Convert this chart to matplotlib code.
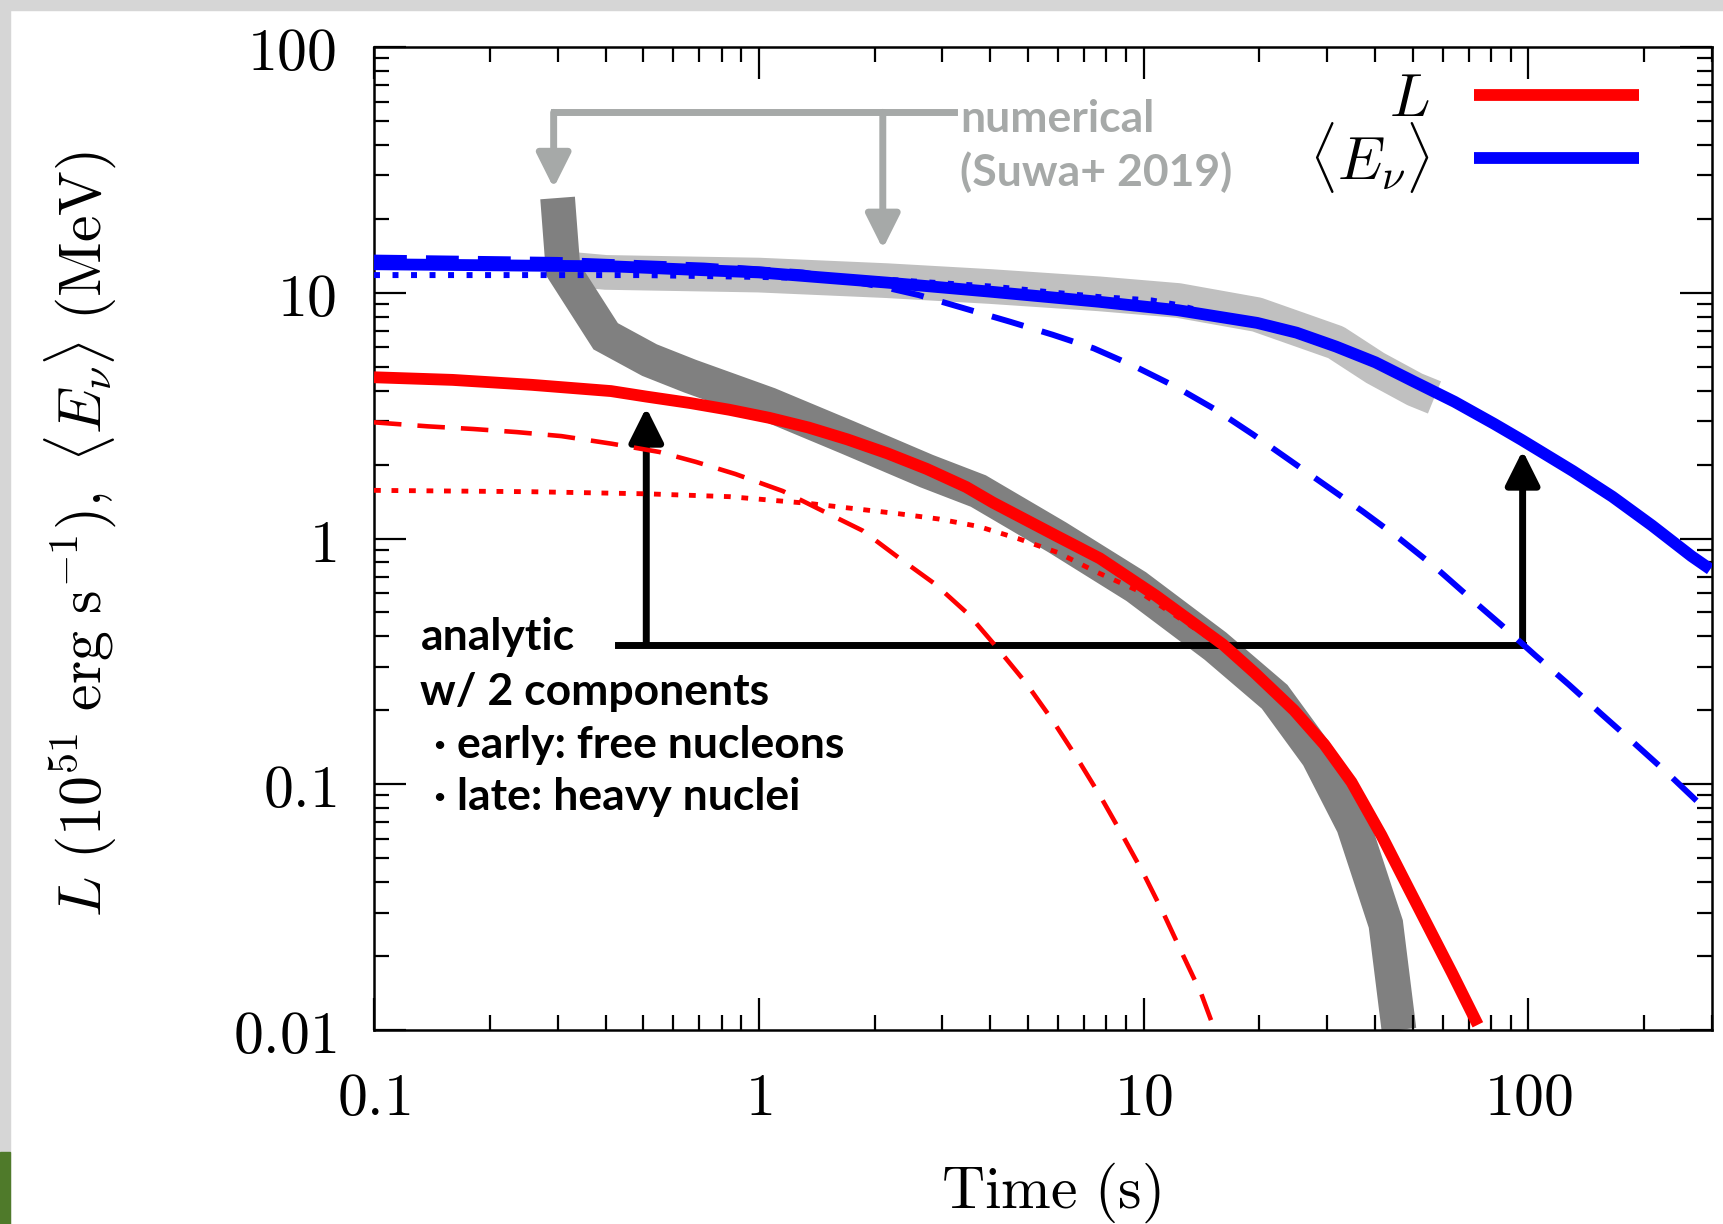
import matplotlib
matplotlib.use("Agg")
import matplotlib.pyplot as plt
from matplotlib.patches import Rectangle
from matplotlib.ticker import NullFormatter

# analytic model, luminosity (10^51 erg/s): total, early and late component
t_L = [0.1, 0.16, 0.257, 0.413, 0.51, 0.662, 0.839, 1.062, 1.345, 1.70, 2.16, 2.73, 3.46, 4.06,
       5.97, 7.7, 10.77, 16.09, 19.44, 24.6, 29.5, 34.7, 41.5, 48.9, 63.4, 73.9]
L_tot = [4.53, 4.42, 4.22, 3.98, 3.78, 3.56, 3.34, 3.10, 2.83, 2.53, 2.22, 1.92, 1.62, 1.40,
         1.02, 0.83, 0.585, 0.37, 0.284, 0.20, 0.145, 0.102, 0.062, 0.0375, 0.017, 0.0105]
t_L_early = [0.1, 0.138, 0.181, 0.235, 0.307, 0.415, 0.551, 0.686, 0.869, 1.154, 1.444, 1.86, 2.32,
             2.87, 3.51, 4.17, 4.94, 5.80, 6.71, 7.70, 8.75, 9.99, 11.29, 12.65, 14.13, 15.3]
L_early = [2.97, 2.86, 2.79, 2.71, 2.61, 2.43, 2.25, 2.05, 1.83, 1.56, 1.31, 1.077, 0.831,
           0.653, 0.491, 0.358, 0.259, 0.182, 0.128, 0.090, 0.0633, 0.0434, 0.0296, 0.0202, 0.014, 0.01]
t_L_late = [0.1, 0.257, 0.51, 0.839, 1.345, 2.32, 2.94, 3.72, 4.71, 5.97, 7.55, 9.57, 12.5, 16.09,
            19.44, 24.6, 29.5, 34.7, 41.5, 48.9, 63.4, 73.9]
L_late = [1.57, 1.55, 1.52, 1.48, 1.39, 1.26, 1.20, 1.12, 1.0, 0.878, 0.73, 0.618, 0.47, 0.36,
          0.28, 0.20, 0.145, 0.102, 0.062, 0.0375, 0.017, 0.0105]

# analytic model, mean energy (MeV)
t_E = [0.1, 0.42, 0.72, 1.0, 2.15, 4.0, 7.66, 12.29, 19.72, 24.97, 31.62, 40.05, 50.7, 64.3, 81.4,
       96.0, 130.6, 165.3, 209.4, 265.2, 297]
E_tot = [13.06, 12.8, 12.35, 12.1, 11.0, 10.1, 9.19, 8.49, 7.54, 6.88, 6.04, 5.21, 4.33, 3.60, 2.93,
         2.52, 1.88, 1.48, 1.13, 0.848, 0.75]
t_E_early = [0.1, 0.3, 0.72, 1.3, 2.14, 2.6, 3.42, 4.5, 5.8, 7.42, 9.45, 12.1, 15.4, 19.25, 23.9,
             29.8, 37.1, 46.2, 57.1, 69.8, 85.3, 104.3, 127.5, 154.8, 189.2, 231.2, 279.4, 297]
E_early = [13.9, 13.6, 12.9, 12.1, 10.5, 9.79, 8.64, 7.62, 6.75, 5.94, 5.03, 4.15, 3.34, 2.65, 2.09,
           1.64, 1.289, 1.00, 0.767, 0.581, 0.443, 0.334, 0.254, 0.193, 0.146, 0.110, 0.083, 0.077]
t_E_late = [0.1, 0.5, 1.0, 2.15, 4.0, 7.66, 10.5, 12.29, 15.7, 19.72, 31.62, 50.7, 96.0, 165.3, 297]
E_late = [11.8, 11.8, 11.6, 11.3, 10.6, 9.6, 9.3, 8.9, 8.05, 7.54, 6.04, 4.33, 2.52, 1.48, 0.75]

# numerical result (Suwa+ 2019)
t_num_L = [0.30, 0.31, 0.40, 0.52, 0.662, 1.062, 1.70, 2.73, 3.72, 5.97, 9.57, 15.36, 21.9, 28.4,
           35.1, 42.6, 46.1]
num_L = [24.3, 12.4, 6.65, 5.32, 4.58, 3.51, 2.58, 1.88, 1.56, 1.01, 0.637, 0.365, 0.227, 0.130,
         0.068, 0.027, 0.01]
t_num_E = [0.30, 0.40, 1.0, 2.15, 4.0, 7.66, 12.3, 19.7, 31.6, 40.0, 50.7, 57]
num_E = [12.6, 12.1, 11.8, 11.2, 10.6, 9.9, 9.3, 8.15, 6.28, 4.94, 4.04, 3.75]

xticks = [0.1, 1, 10, 100]
xticklabels = ['0.1', '1', '10', '100']
yticks = [0.01, 0.1, 1, 10, 100]
yticklabels = ['0.01', '0.1', '1', '10', '100']

plt.rcParams['mathtext.fontset'] = 'cm'
plt.rcParams['axes.linewidth'] = 1.8

W, H = 1723, 1224
fig = plt.figure(figsize=(W / 100, H / 100), dpi=100)

# slide frame bits around the picture
fig.patches.append(Rectangle((0, 1 - 10 / H), 1, 10 / H, transform=fig.transFigure, color='#d6d6d6', zorder=0))
fig.patches.append(Rectangle((0, 0), 10 / W, 1, transform=fig.transFigure, color='#d6d6d6', zorder=0))
fig.patches.append(Rectangle((0, 0), 10 / W, 72 / H, transform=fig.transFigure, color='#4f7a2a', zorder=0))

ax = fig.add_axes([374 / W, 1 - 1030 / H, 1338 / W, 983 / H])
ax.set_xscale('log')
ax.set_yscale('log')

red = '#ff0000'
blue = '#0000ff'
gray_txt = '#a6a9a8'

# numerical bands
ax.plot(t_num_E, num_E, color='#c0c0c0', lw=25, solid_capstyle='butt', solid_joinstyle='round', zorder=1)
ax.plot(t_num_L, num_L, color='#808080', lw=25, solid_capstyle='butt', solid_joinstyle='miter', zorder=1.1)

# components
ax.plot(t_L_early, L_early, color=red, lw=3.3, dashes=(6, 3.5), zorder=3)
ax.plot(t_L_late, L_late, color=red, lw=3.5, dashes=(1.4, 2.2), zorder=3)
ax.plot(t_E_early, E_early, color=blue, lw=4.3, dashes=(5.5, 3.2), zorder=3)
ax.plot(t_E_late, E_late, color=blue, lw=4.3, dashes=(1.0, 2.1), zorder=3)

# totals
lL, = ax.plot(t_L, L_tot, color=red, lw=8.5, solid_capstyle='butt', zorder=4, label=r'$L$')
lE, = ax.plot(t_E, E_tot, color=blue, lw=8.5, solid_capstyle='butt', zorder=4,
              label=r'$\langle E_\nu \rangle$')

# annotation: numerical
ax.plot([0.293, 3.21], [54.2, 54.2], color=gray_txt, lw=5, solid_capstyle='projecting', zorder=2)
for xa, ya in [(0.293, 26.7), (2.10, 15.1)]:
    ax.annotate('', xy=(xa, ya), xytext=(xa, 54.2),
                arrowprops=dict(arrowstyle='-|>', color=gray_txt, lw=5, mutation_scale=52,
                                shrinkA=0, shrinkB=0), zorder=2)
txt_font = dict(family='Lato', weight='bold', fontsize=32)
ax.text(3.33, 44.9, 'numerical', color=gray_txt, va='baseline', ha='left', **txt_font)
ax.text(3.33, 27.1, '(Suwa+ 2019)', color=gray_txt, va='baseline', ha='left', **txt_font)

# annotation: analytic
ax.plot([0.43, 96.6], [0.37, 0.37], color='k', lw=5, solid_capstyle='projecting', zorder=2)
for xa, ya in [(0.51, 3.41), (96.6, 2.28)]:
    ax.annotate('', xy=(xa, ya), xytext=(xa, 0.37),
                arrowprops=dict(arrowstyle='-|>', color='k', lw=5, mutation_scale=52,
                                shrinkA=0, shrinkB=0), zorder=2)
ax.text(0.132, 0.351, 'analytic', color='k', va='baseline', ha='left', **txt_font)
ax.text(0.132, 0.210, 'w/ 2 components', color='k', va='baseline', ha='left', **txt_font)
ax.text(0.143, 0.128, '\u00b7 early: free nucleons', color='k', va='baseline', ha='left', **txt_font)
ax.text(0.143, 0.0783, '\u00b7 late: heavy nuclei', color='k', va='baseline', ha='left', **txt_font)

ax.set_xlim(0.1, 300)
ax.set_ylim(0.01, 100)
ax.set_xticks(xticks, labels=['$' + s + '$' for s in xticklabels])
ax.set_yticks(yticks, labels=['$' + s + '$' for s in yticklabels])
ax.xaxis.set_minor_formatter(NullFormatter())
ax.yaxis.set_minor_formatter(NullFormatter())
ax.tick_params(which='both', direction='in', top=True, right=True, width=1.6, labelsize=43)
ax.tick_params(which='major', length=23)
ax.tick_params(which='minor', length=11)
ax.tick_params(axis='x', pad=28)
ax.tick_params(axis='y', pad=27)

ax.set_xlabel(r'$\mathrm{Time\ (s)}$', fontsize=43)
ax.xaxis.set_label_coords(0.506, -0.133)
ax.xaxis.label.set_va('top')
ax.set_ylabel(r'$L\ (10^{51}\ \mathrm{erg\ s^{-1}}),\ \langle E_\nu \rangle\ (\mathrm{MeV})$', fontsize=43)
ax.yaxis.set_label_coords(-0.191, 0.505)

ax.legend(handles=[lL, lE], loc='upper right', bbox_to_anchor=(0.9454, 0.977), markerfirst=False,
          frameon=False, fontsize=43, handlelength=2.76, handletextpad=0.74, labelspacing=-0.15,
          borderpad=0, borderaxespad=0)

fig.savefig('out.png', dpi=100)
